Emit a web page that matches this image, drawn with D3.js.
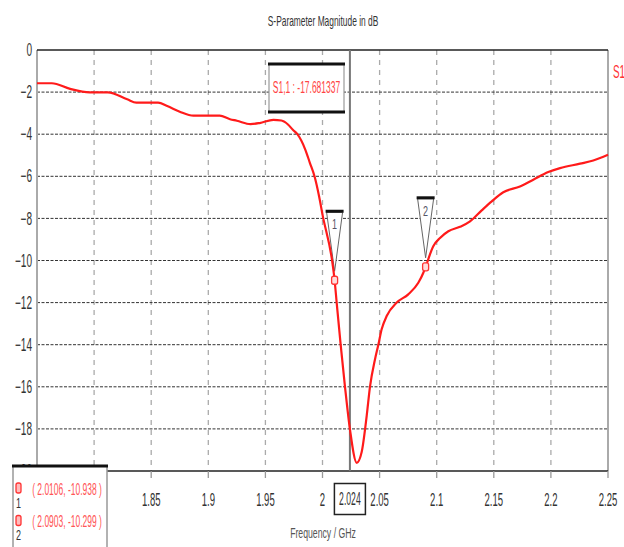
<!DOCTYPE html>
<html>
<head>
<meta charset="utf-8">
<script src="https://cdn.jsdelivr.net/npm/d3@7"></script>
<style>
  body { margin: 0; background: #fff; }
  svg { display: block; font-family: "Liberation Sans", Arial, sans-serif; }
</style>
</head>
<body>
<div id="chart"></div>
<script>
// S11 (GHz, dB)
var freq = [1.750, 1.763, 1.779, 1.796, 1.812, 1.829, 1.837, 1.856, 1.864, 1.875,
            1.887, 1.910, 1.919, 1.925, 1.937, 1.945, 1.957, 1.964, 1.970, 1.974,
            1.978, 1.985, 1.989, 1.993, 1.997, 2.000, 2.0089, 2.0106, 2.0124, 2.0159,
            2.0197, 2.0241, 2.0300, 2.0343, 2.0387, 2.0416, 2.0460, 2.0489, 2.0518, 2.0562,
            2.0650, 2.0751, 2.0839, 2.0883, 2.0903, 2.0970, 2.1029, 2.1102, 2.1204, 2.1292,
            2.1394, 2.1482, 2.1583, 2.1729, 2.1846, 2.1977, 2.2080, 2.2255, 2.2371, 2.2500];
var s11 = [-1.58, -1.58, -1.85, -2.01, -2.01, -2.34, -2.50, -2.50, -2.66, -2.93,
           -3.12, -3.12, -3.29, -3.36, -3.52, -3.47, -3.32, -3.35, -3.55, -3.79,
           -4.00, -4.74, -5.37, -6.00, -6.95, -7.82, -10.19, -10.938, -11.99, -14.0,
           -16.0, -18.05, -19.61, -19.1, -17.38, -15.99, -14.69, -14.0, -13.27, -12.64,
           -12.0, -11.61, -11.06, -10.58, -10.299, -9.32, -8.93, -8.61, -8.40, -8.14,
           -7.62, -7.19, -6.76, -6.48, -6.16, -5.80, -5.61, -5.40, -5.25, -4.98];

var markerNames = ["1", "2"];
var markerFreq = [2.0106, 2.0903];
var markerVal = [-10.938, -10.299];
var markerLabels = ["( 2.0106, -10.938 )", "( 2.0903, -10.299 )"];

var cursorFreq = 2.024;
var cursorText = "S1,1 : -17.681337";

var xTicks = [1.75, 1.8, 1.85, 1.9, 1.95, 2, 2.05, 2.1, 2.15, 2.2, 2.25];
// 1.75 and 1.8 sit under the marker box, so they get no label
var xTickLabels = ["", "", "1.85", "1.9", "1.95", "2", "2.05", "2.1", "2.15", "2.2", "2.25"];
var yTicks = [0, -2, -4, -6, -8, -10, -12, -14, -16, -18, -20];

var width = 624, height = 547;
var plotLeft = 37, plotRight = 608, plotTop = 50, plotBottom = 471;

var x = d3.scaleLinear().domain([1.75, 2.25]).range([plotLeft, plotRight]);
var y = d3.scaleLinear().domain([0, -20]).range([plotTop, plotBottom]);

var svg = d3.select("#chart").append("svg")
    .attr("width", width)
    .attr("height", height);

// narrow text, the original is squeezed sideways
function label(parent, px, py, str, size, sx, anchor, color) {
  return parent.append("text")
    .attr("transform", "translate(" + px + "," + py + ") scale(" + sx + ",1)")
    .attr("text-anchor", anchor)
    .attr("dominant-baseline", "central")
    .style("font-size", size + "px")
    .attr("fill", color)
    .text(str);
}

// title
label(svg, 323, 21, "S-Parameter Magnitude in dB", 14, 0.6, "middle", "#333");

// vertical grid
svg.selectAll(".vgrid")
  .data(xTicks.slice(1, -1))
  .enter().append("line")
    .attr("x1", function(d) { return x(d); })
    .attr("x2", function(d) { return x(d); })
    .attr("y1", plotTop)
    .attr("y2", plotBottom)
    .attr("stroke", "#aaa")
    .attr("stroke-width", 1.3)
    .attr("stroke-dasharray", "5,5");

// horizontal grid
svg.selectAll(".hgrid")
  .data(yTicks.slice(1, -1))
  .enter().append("line")
    .attr("x1", plotLeft)
    .attr("x2", plotRight)
    .attr("y1", function(d) { return y(d); })
    .attr("y2", function(d) { return y(d); })
    .attr("stroke", "#333")
    .attr("stroke-width", 1)
    .attr("stroke-dasharray", "3,1.5");

// frame
svg.append("line").attr("x1", plotLeft).attr("x2", plotLeft).attr("y1", plotTop).attr("y2", plotBottom)
  .attr("stroke", "#aaa").attr("stroke-width", 2);
svg.append("line").attr("x1", plotRight).attr("x2", plotRight).attr("y1", plotTop).attr("y2", plotBottom)
  .attr("stroke", "#aaa").attr("stroke-width", 2);
svg.append("line").attr("x1", plotLeft).attr("x2", plotRight).attr("y1", plotTop).attr("y2", plotTop)
  .attr("stroke", "#222").attr("stroke-width", 1.5);
svg.append("line").attr("x1", plotLeft).attr("x2", plotRight).attr("y1", plotBottom).attr("y2", plotBottom)
  .attr("stroke", "#222").attr("stroke-width", 1.5);

// x ticks below the axis
svg.selectAll(".xtick")
  .data(xTicks)
  .enter().append("line")
    .attr("x1", function(d) { return x(d); })
    .attr("x2", function(d) { return x(d); })
    .attr("y1", plotBottom)
    .attr("y2", plotBottom + 7)
    .attr("stroke", "#999")
    .attr("stroke-width", 1.3);

xTicks.forEach(function(d, i) {
  if (xTickLabels[i]) label(svg, x(d), 500, xTickLabels[i], 18, 0.53, "middle", "#333");
});
yTicks.forEach(function(d) {
  label(svg, 32, y(d), d3.format("d")(d), 18, 0.56, "end", "#333");
});

label(svg, 323, 533, "Frequency / GHz", 15, 0.58, "middle", "#555");

// cursor line
svg.append("line")
  .attr("x1", x(cursorFreq)).attr("x2", x(cursorFreq))
  .attr("y1", plotTop).attr("y2", plotBottom)
  .attr("stroke", "#777").attr("stroke-width", 2);

// cursor value under the axis
svg.append("rect")
  .attr("x", x(cursorFreq) - 15.5).attr("y", 483.5)
  .attr("width", 31).attr("height", 31)
  .attr("fill", "#fff").attr("stroke", "#222").attr("stroke-width", 1.5);
label(svg, x(cursorFreq), 499, d3.format(".3f")(cursorFreq), 18, 0.48, "middle", "#333");

// marker flags
var flags = svg.selectAll(".flag")
  .data(markerFreq)
  .enter().append("g")
    .attr("transform", function(d, i) { return "translate(" + x(d) + "," + y(markerVal[i]) + ")"; });

flags.append("path")
  .attr("d", "M-8,-68 L0,-9 L8,-68 Z")
  .attr("fill", "#fff")
  .attr("stroke", "#666")
  .attr("stroke-width", 1);
flags.append("line")
  .attr("x1", -9).attr("x2", 9).attr("y1", -69).attr("y2", -69)
  .attr("stroke", "#111").attr("stroke-width", 3);
flags.each(function(d, i) {
  label(d3.select(this), 0, -56, markerNames[i], 15, 0.6, "middle", "#556");
});

// curve
var line = d3.line()
  .x(function(d, i) { return x(freq[i]); })
  .y(function(d) { return y(d); })
  .curve(d3.curveMonotoneX);

svg.append("path")
  .datum(s11)
  .attr("d", line)
  .attr("fill", "none")
  .attr("stroke", "#ff1a1a")
  .attr("stroke-width", 2.2);

// marker symbols on the curve
svg.selectAll(".mk")
  .data(markerFreq)
  .enter().append("rect")
    .attr("x", function(d) { return x(d) - 3; })
    .attr("y", function(d, i) { return y(markerVal[i]) - 4; })
    .attr("width", 6)
    .attr("height", 8)
    .attr("rx", 2)
    .attr("fill", "#fdd")
    .attr("stroke", "#f33")
    .attr("stroke-width", 1.3);

// cursor readout box
svg.append("rect")
  .attr("x", 269).attr("y", 64).attr("width", 75).attr("height", 48)
  .attr("fill", "#fff").attr("stroke", "#999").attr("stroke-width", 1.2);
svg.append("line").attr("x1", 268).attr("x2", 345).attr("y1", 64).attr("y2", 64)
  .attr("stroke", "#111").attr("stroke-width", 3);
svg.append("line").attr("x1", 268).attr("x2", 345).attr("y1", 112).attr("y2", 112)
  .attr("stroke", "#111").attr("stroke-width", 3);
label(svg, 306.5, 87, cursorText, 16, 0.53, "middle", "#f44");

// series name at the right edge
label(svg, 613, 72, "S1", 18, 0.55, "start", "#f33");

// marker legend box, bottom left
svg.append("rect")
  .attr("x", 13).attr("y", 466).attr("width", 94).attr("height", 90)
  .attr("fill", "#fff").attr("stroke", "#999").attr("stroke-width", 1.5);
svg.append("line").attr("x1", 12).attr("x2", 108).attr("y1", 466).attr("y2", 466)
  .attr("stroke", "#111").attr("stroke-width", 3);

markerLabels.forEach(function(t, i) {
  var yy = 489 + i * 32.5;
  svg.append("rect")
    .attr("x", 16).attr("y", yy - 6).attr("width", 5).attr("height", 10).attr("rx", 2)
    .attr("fill", "#fbb").attr("stroke", "#f33").attr("stroke-width", 1.3);
  label(svg, 18.5, yy + 14, markerNames[i], 15, 0.6, "middle", "#333");
  label(svg, 67, yy, t, 16, 0.53, "middle", "#f55");
});
</script>
</body>
</html>
